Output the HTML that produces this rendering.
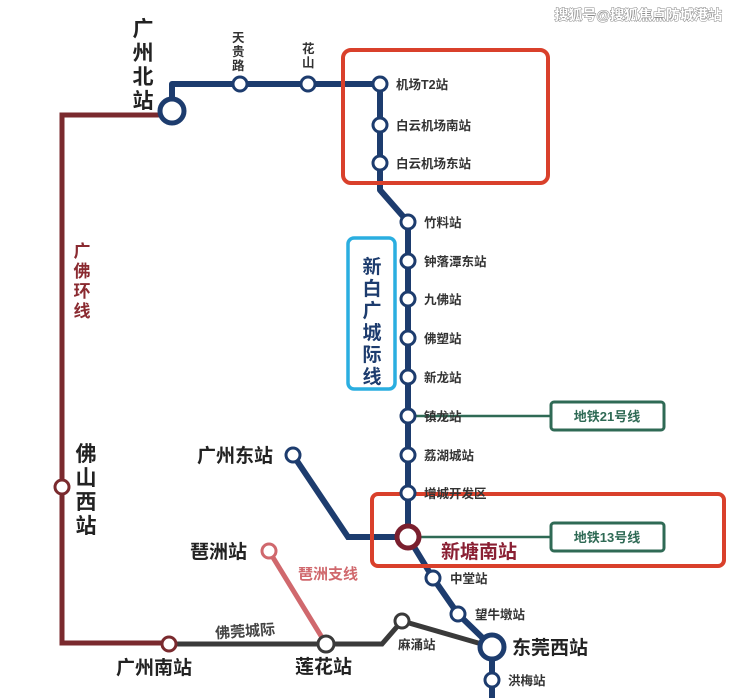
<!DOCTYPE html>
<html><head><meta charset="utf-8"><style>
html,body{margin:0;padding:0;background:#fff;}
svg{display:block;}
text{font-family:"Liberation Sans","Noto Sans CJK SC",sans-serif;}
</style></head><body>
<svg width="740" height="698" viewBox="0 0 740 698" xmlns="http://www.w3.org/2000/svg">
<polyline points="160,115 62,115 62,643 169,643" fill="none" stroke="#7a2a2e" stroke-width="5"/>
<polyline points="169,644 382,644 402,621 492,647" fill="none" stroke="#3a3a3a" stroke-width="5"/>
<line x1="269" y1="551" x2="326" y2="644" stroke="#d0686d" stroke-width="5"/>
<line x1="408" y1="416" x2="551" y2="416" stroke="#2f6a55" stroke-width="2.5"/>
<line x1="420" y1="537" x2="551" y2="537" stroke="#2f6a55" stroke-width="2.5"/>
<polyline points="172,100 172,84 380,84 380,190 408,222 408,537 433,578 458,614 492,647 492,698" fill="none" stroke="#1d3c6e" stroke-width="6" stroke-linejoin="round"/>
<polyline points="293,455 348,537 408,537" fill="none" stroke="#1d3c6e" stroke-width="6"/>
<rect x="343" y="50" width="205" height="133" rx="8" fill="none" stroke="#d9402b" stroke-width="4"/>
<rect x="372" y="494" width="352" height="72" rx="6" fill="none" stroke="#d9402b" stroke-width="4"/>
<rect x="551" y="402" width="113" height="28" rx="3" fill="#fff" stroke="#2f6a55" stroke-width="3"/>
<text x="607" y="421" font-size="13" fill="#2f6a55" text-anchor="middle" font-weight="bold">地铁21号线</text>
<rect x="551" y="523" width="113" height="28" rx="3" fill="#fff" stroke="#2f6a55" stroke-width="3"/>
<text x="607" y="542" font-size="13" fill="#2f6a55" text-anchor="middle" font-weight="bold">地铁13号线</text>
<rect x="348" y="238" width="47" height="151" rx="6" fill="#fff" stroke="#2aaee0" stroke-width="3.5"/>
<g font-size="19" font-weight="bold" fill="#1d3c6e" text-anchor="middle">
<text x="372" y="273">新</text><text x="372" y="295">白</text><text x="372" y="317">广</text><text x="372" y="339">城</text><text x="372" y="361">际</text><text x="372" y="383">线</text>
</g>
<g fill="#fff" stroke="#1d3c6e" stroke-width="3">
<circle cx="240" cy="84" r="7"/><circle cx="308" cy="84" r="7"/>
<circle cx="380" cy="84" r="7"/><circle cx="380" cy="125" r="7"/><circle cx="380" cy="163" r="7"/>
<circle cx="408" cy="222" r="7"/><circle cx="408" cy="261" r="7"/><circle cx="408" cy="299" r="7"/><circle cx="408" cy="338" r="7"/><circle cx="408" cy="377" r="7"/><circle cx="408" cy="416" r="7"/><circle cx="408" cy="455" r="7"/><circle cx="408" cy="493" r="7"/>
<circle cx="293" cy="455" r="7"/>
<circle cx="433" cy="578" r="7"/><circle cx="458" cy="614" r="7"/><circle cx="492" cy="680" r="7"/>
</g>
<circle cx="172" cy="111" r="12" fill="#fff" stroke="#1d3c6e" stroke-width="5"/>
<circle cx="492" cy="647" r="12" fill="#fff" stroke="#1d3c6e" stroke-width="5"/>
<circle cx="408" cy="537" r="11" fill="#fff" stroke="#7a1f2e" stroke-width="5"/>
<circle cx="62" cy="487" r="7" fill="#fff" stroke="#7a2a2e" stroke-width="3"/>
<circle cx="169" cy="644" r="7" fill="#fff" stroke="#7a2a2e" stroke-width="3"/>
<circle cx="326" cy="644" r="8" fill="#fff" stroke="#3a3a3a" stroke-width="3"/>
<circle cx="402" cy="621" r="7" fill="#fff" stroke="#3a3a3a" stroke-width="3"/>
<circle cx="269" cy="551" r="7" fill="#fff" stroke="#d0686d" stroke-width="3"/>
<g font-size="12.5" fill="#333" font-weight="bold">
<text x="232" y="42">天</text><text x="232" y="56">贵</text><text x="232" y="70">路</text>
<text x="302" y="53">花</text><text x="302" y="67">山</text>
<text x="396" y="89">机场T2站</text><text x="396" y="130">白云机场南站</text><text x="396" y="168">白云机场东站</text>
<text x="424" y="227">竹料站</text><text x="424" y="266">钟落潭东站</text><text x="424" y="304">九佛站</text><text x="424" y="343">佛塑站</text><text x="424" y="382">新龙站</text><text x="424" y="421">镇龙站</text><text x="424" y="460">荔湖城站</text><text x="424" y="498">增城开发区</text>
<text x="450" y="583">中堂站</text><text x="475" y="619">望牛墩站</text><text x="398" y="649">麻涌站</text><text x="508" y="685">洪梅站</text>
</g>
<g font-size="21" font-weight="bold" fill="#222" text-anchor="middle">
<text x="143" y="36">广</text><text x="143" y="60">州</text><text x="143" y="84">北</text><text x="143" y="108">站</text>
<text x="86" y="461">佛</text><text x="86" y="485">山</text><text x="86" y="509">西</text><text x="86" y="533">站</text>
</g>
<g font-size="19" font-weight="bold" fill="#222">
<text x="197" y="462">广州东站</text><text x="190" y="558">琶洲站</text><text x="116" y="674">广州南站</text><text x="295" y="673">莲花站</text><text x="512" y="654">东莞西站</text>
</g>
<text x="441" y="558" font-size="19" font-weight="bold" fill="#8a1f33">新塘南站</text>
<g font-size="17" font-weight="bold" fill="#8a2a30" text-anchor="middle">
<text x="82" y="257">广</text><text x="82" y="277">佛</text><text x="82" y="297">环</text><text x="82" y="317">线</text>
</g>
<text x="298" y="579" font-size="15" font-weight="bold" fill="#d0686d">琶洲支线</text>
<text x="215" y="636" font-size="15" font-weight="bold" fill="#444" transform="rotate(-4 250 630)">佛莞城际</text>
<text x="722" y="20" font-size="14" font-weight="bold" fill="#fff" stroke="#888" stroke-width="1" paint-order="stroke" text-anchor="end">搜狐号@搜狐焦点防城港站</text>
</svg>
</body></html>
